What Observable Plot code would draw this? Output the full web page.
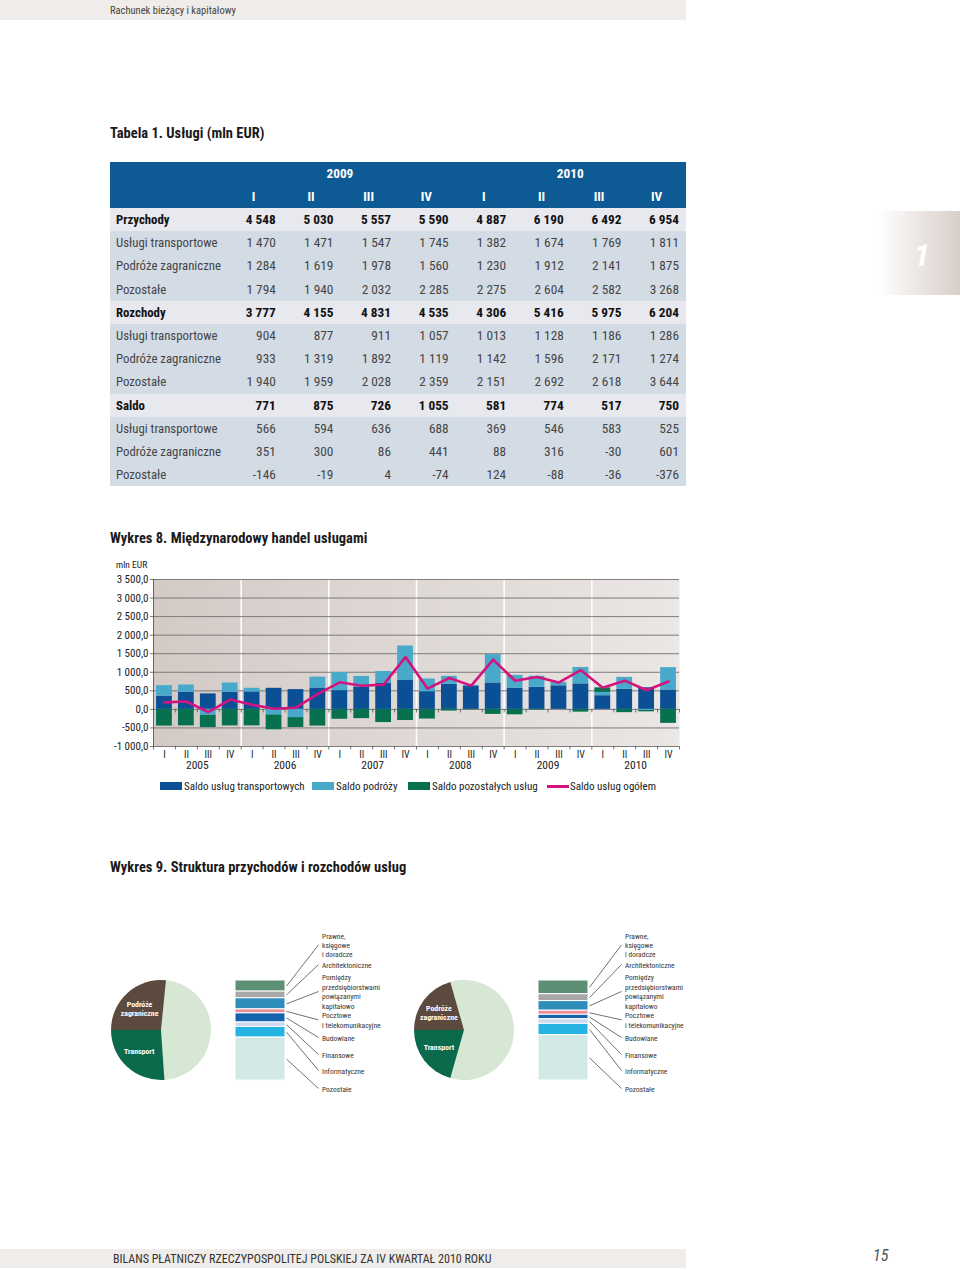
<!DOCTYPE html>
<html><head><meta charset="utf-8">
<script src="https://cdn.jsdelivr.net/npm/d3@7"></script>
<script src="https://cdn.jsdelivr.net/npm/@observablehq/plot@0.6"></script>
<style>
body{margin:0;width:960px;height:1270px;position:relative;background:#fff;overflow:hidden;
 font-family:"Liberation Sans Narrow","Roboto Condensed",Roboto,sans-serif;color:#222}
.abs{position:absolute}
.band{position:absolute;left:0;width:686px;background:#efecea}
.title{position:absolute;left:110px;font-size:14.5px;font-weight:bold;color:#1a1a1a}
table{border-collapse:collapse;table-layout:fixed;width:576px;font-size:13.3px}
td{height:23.2px;padding:0 7px 0 6px;box-sizing:border-box;white-space:nowrap}
td.lab{font-size:12.8px}
tr.head td{background:#0e5a94;color:#fff;font-weight:bold;text-align:center;height:23px}
tr.main td{background:#e8e8ef;font-weight:bold;color:#111}
tr.sub td{background:#d3dbe5;color:#454545}
td.num{text-align:right}
.leg{position:absolute;top:780px;font-size:11px;color:#222;line-height:13px}
.sw{position:absolute;top:782px;width:22px;height:8px}
</style></head><body>
<div class="band" style="top:0;height:20px"></div>
<div class="abs" style="left:110px;top:4px;font-size:10.5px;color:#444">Rachunek bieżący i kapitałowy</div>
<div class="abs" style="left:878px;top:211px;width:82px;height:84px;background:linear-gradient(to right,#ffffff,#d8cec9)"></div>
<div class="abs" style="left:914px;top:236px;font-size:32px;font-weight:bold;font-style:italic;color:#fff">1</div>
<div class="title" style="top:125px">Tabela 1. Usługi (mln EUR)</div>
<div id="tbl" class="abs" style="left:110px;top:162px"></div>
<div class="title" style="top:530px">Wykres 8. Międzynarodowy handel usługami</div>
<div id="chart8" class="abs" style="left:100px;top:555px"></div>
<div class="abs" style="left:116px;top:559px;font-size:9.5px;color:#222">mln EUR</div>
<div id="legend"></div>
<div class="title" style="top:859px">Wykres 9. Struktura przychodów i rozchodów usług</div>
<div id="pie1" class="abs" style="left:100px;top:925px"></div>
<div id="pie2" class="abs" style="left:403px;top:925px"></div>
<div class="band" style="top:1249px;height:19px"></div>
<div class="abs" style="left:113px;top:1252px;font-size:12px;color:#333">BILANS PŁATNICZY RZECZYPOSPOLITEJ POLSKIEJ ZA IV KWARTAŁ 2010 ROKU</div>
<div class="abs" style="left:873px;top:1246px;font-size:16px;font-style:italic;color:#555">15</div>
<script>
const FONT = '"Liberation Sans Narrow","Roboto Condensed",Roboto,sans-serif';
const pl = d3.formatLocale({decimal: ",", thousands: "\u00a0", grouping: [3], currency: ["", ""], minus: "-"});
const fmtInt = pl.format(",d");
const fmtAxis = pl.format(",.1f");

// ---------- Tabela 1 ----------
const tableYears = ["2009", "2010"];
const tableQuarters = ["I", "II", "III", "IV", "I", "II", "III", "IV"];
const rowLabels = ["Przychody", "Usługi transportowe", "Podróże zagraniczne", "Pozostałe",
  "Rozchody", "Usługi transportowe", "Podróże zagraniczne", "Pozostałe",
  "Saldo", "Usługi transportowe", "Podróże zagraniczne", "Pozostałe"];
const przychody      = [4548, 5030, 5557, 5590, 4887, 6190, 6492, 6954];
const przTransport   = [1470, 1471, 1547, 1745, 1382, 1674, 1769, 1811];
const przPodroze     = [1284, 1619, 1978, 1560, 1230, 1912, 2141, 1875];
const przPozostale   = [1794, 1940, 2032, 2285, 2275, 2604, 2582, 3268];
const rozchody       = [3777, 4155, 4831, 4535, 4306, 5416, 5975, 6204];
const rozTransport   = [904, 877, 911, 1057, 1013, 1128, 1186, 1286];
const rozPodroze     = [933, 1319, 1892, 1119, 1142, 1596, 2171, 1274];
const rozPozostale   = [1940, 1959, 2028, 2359, 2151, 2692, 2618, 3644];
const saldo          = [771, 875, 726, 1055, 581, 774, 517, 750];
const saldoTransport = [566, 594, 636, 688, 369, 546, 583, 525];
const saldoPodroze   = [351, 300, 86, 441, 88, 316, -30, 601];
const saldoPozostale = [-146, -19, 4, -74, 124, -88, -36, -376];
const tableRows = [przychody, przTransport, przPodroze, przPozostale, rozchody, rozTransport,
  rozPodroze, rozPozostale, saldo, saldoTransport, saldoPodroze, saldoPozostale];
const mainRows = new Set(["Przychody", "Rozchody", "Saldo"]);

{
  const t = d3.select("#tbl").append("table");
  const cg = t.append("colgroup");
  cg.append("col").style("width", "115.2px");
  tableQuarters.forEach(() => cg.append("col").style("width", "57.6px"));
  const h1 = t.append("tr").attr("class", "head");
  h1.append("td");
  tableYears.forEach(y => h1.append("td").attr("colspan", 4).text(y));
  const h2 = t.append("tr").attr("class", "head");
  h2.append("td");
  tableQuarters.forEach(q => h2.append("td").text(q));
  tableRows.forEach((vals, r) => {
    const tr = t.append("tr").attr("class", mainRows.has(rowLabels[r]) ? "main" : "sub");
    tr.append("td").attr("class", "lab").text(rowLabels[r]);
    vals.forEach(v => tr.append("td").attr("class", "num").text(fmtInt(v)));
  });
}

// ---------- Wykres 8 ----------
const chartYears = ["2005", "2006", "2007", "2008", "2009", "2010"];
const chartQuarters = ["I", "II", "III", "IV"];
const saldoUslugTransportowych = [355, 462, 417, 462, 470, 568, 533, 577, 506, 604, 710, 778,
  477, 676, 631, 712, 566, 594, 636, 688, 369, 546, 583, 525];
const saldoPodrozy = [285, 195, -160, 248, 98, -150, -222, 293, 489, 284, 311, 930,
  343, 216, 20, 765, 351, 300, 86, 441, 88, 316, -30, 601];
const saldoPozostalychUslug = [-450, -444, -330, -445, -444, -400, -266, -450, -266, -249, -355, -300,
  -260, -45, -10, -135, -146, -19, 4, -74, 124, -88, -36, -376];
const saldoUslugOgolem = [190, 213, -71, 265, 124, 18, 45, 420, 729, 639, 666, 1410,
  560, 847, 640, 1342, 771, 875, 726, 1055, 581, 774, 517, 750];
const seriesNames = ["Saldo usług transportowych", "Saldo podróży", "Saldo pozostałych usług"];
const lineName = "Saldo usług ogółem";
const seriesColors = ["#0b4f95", "#49a9cb", "#07704f"];
const lineColor = "#d4147e";

const periods = chartYears.flatMap(y => chartQuarters.map(q => ({year: y, q})));
const barRows = [];
[saldoUslugTransportowych, saldoPodrozy, saldoPozostalychUslug].forEach((arr, s) =>
  arr.forEach((v, i) => barRows.push({i, series: seriesNames[s], value: v})));
const lineRows = saldoUslugOgolem.map((v, i) => ({i, value: v}));
const boundaries = d3.range(periods.length + 1);
const yearStarts = boundaries.filter(b => b > 0 && b < periods.length && b % chartQuarters.length === 0);
const yTicks = d3.range(-1000, 3501, 500);
const yMin = d3.min(yTicks), yMax = d3.max(yTicks);
const tickLen = (yMax - yMin) / 166 * 3.5; // ~3.5 px expressed in value units

const chart = Plot.plot({
  width: 590, height: 222, marginLeft: 53, marginRight: 11, marginTop: 24, marginBottom: 31,
  x: {domain: [0, periods.length], axis: null},
  y: {domain: [yMin, yMax], axis: null},
  color: {domain: seriesNames, range: seriesColors},
  style: {fontFamily: FONT, fontSize: "11px", color: "#222", background: "transparent"},
  marks: [
    Plot.frame({fill: "url(#bg8)", stroke: "none"}),
    Plot.ruleX(yearStarts, {stroke: "#ffffff", strokeWidth: 1.6}),
    Plot.ruleY(yTicks, {stroke: "#717171", strokeWidth: 0.9}),
    Plot.rectY(barRows, {x1: d => d.i + 0.14, x2: d => d.i + 0.86, y: "value", fill: "series"}),
    Plot.ruleX(boundaries, {x: d => d, y1: 0, y2: -tickLen, stroke: "#555", strokeWidth: 0.8}),
    Plot.ruleX(boundaries, {x: d => d, y1: yMin, y2: yMin - tickLen, stroke: "#555", strokeWidth: 0.8}),
    Plot.line(lineRows, {x: d => d.i + 0.5, y: "value", stroke: lineColor, strokeWidth: 2.6}),
    Plot.ruleX([0], {stroke: "#555", strokeWidth: 0.9}),
    Plot.ruleY(yTicks, {x1: 0, x2: -0.14, stroke: "#555", strokeWidth: 0.8}),
    Plot.text(yTicks, {x: 0, y: d => d, text: d => fmtAxis(d), textAnchor: "end", dx: -5, fontSize: 11}),
    Plot.text(periods, {x: (d, i) => i + 0.5, y: yMin, text: "q", lineAnchor: "top", dy: 4, fontSize: 10}),
    Plot.text(chartYears, {x: (d, i) => i * chartQuarters.length + chartQuarters.length / 2, y: yMin,
      text: d => d, lineAnchor: "top", dy: 14, fontSize: 11.5})
  ]
});
d3.select(chart).insert("defs", ":first-child").html(
  '<linearGradient id="bg8" x1="0" x2="1" y1="0" y2="0"><stop offset="0" stop-color="#d3cac6"/><stop offset="1" stop-color="#ebe7e4"/></linearGradient>');
document.getElementById("chart8").append(chart);

// legend
{
  const leg = d3.select("#legend");
  const swX = [160, 312, 408];
  seriesNames.forEach((n, i) => {
    leg.append("div").attr("class", "sw").style("left", swX[i] + "px").style("background", seriesColors[i]);
    leg.append("div").attr("class", "leg").style("left", (swX[i] + 24) + "px").text(n);
  });
  leg.append("div").attr("class", "abs").style("left", "547px").style("top", "785px")
    .style("width", "22px").style("height", "3px").style("background", lineColor);
  leg.append("div").attr("class", "leg").style("left", "570px").text(lineName);
}

// ---------- Wykres 9 ----------
const pieNames = ["Pozostałe", "Transport", "Podróże zagraniczne"];
const pieLabels = ["", "Transport", "Podróże\nzagraniczne"];
const pieColors = ["#d6e8d3", "#0a6a4b", "#5d4a3f"];
const przychodySharesPie = [47.3, 26.1, 26.6];
const rozchodySharesPie = [58.8, 20.6, 20.6];

const segNames = ["Prawne, księgowe i doradcze", "Architektoniczne",
  "Pomiędzy przedsiębiorstwami powiązanymi kapitałowo", "Pocztowe i telekomunikacyjne",
  "Budowlane", "Finansowe", "Informatyczne", "Pozostałe"];
const segLabels = ["Prawne,\nksięgowe\ni doradcze", "Architektoniczne",
  "Pomiędzy\nprzedsiębiorstwami\npowiązanymi\nkapitałowo", "Pocztowe\ni telekomunikacyjne",
  "Budowlane", "Finansowe", "Informatyczne", "Pozostałe"];
const segColors = ["#5d8f75", "#a8a8a8", "#2e8db9", "#e98d97", "#1562ad", "#cad9f1", "#25b3e2", "#d3e9e6"];
const przychodySegments = [11.1, 6.7, 11.1, 4.0, 9.1, 4.4, 10.7, 43.0];
const rozchodySegments = [13.7, 6.9, 9.6, 4.1, 4.5, 4.5, 11.3, 45.4];

// layout (column-width units / px from column top)
const pieCenterX = -1.48, labelX = 1.73, leaderX = 1.66;
const labelY = [-35.6, -16, 11, 39.4, 57, 74, 90, 108];

function pieRender(shares) {
  return (index, scales) => {
    const cx = scales.x(pieCenterX), cy = scales.y(50), r = scales.x(1) - scales.x(0);
    const total = d3.sum(shares);
    const start = 1.5 * Math.PI + shares[2] / total * 2 * Math.PI;
    const arcs = d3.pie().sort(null).value(d => d).startAngle(start).endAngle(start + 2 * Math.PI)(shares);
    const arc = d3.arc().innerRadius(0).outerRadius(r);
    const lab = d3.arc().innerRadius(r * 0.58).outerRadius(r * 0.58);
    const g = d3.create("svg:g").attr("transform", `translate(${cx},${cy})`);
    g.selectAll("path").data(arcs).join("path").attr("d", arc).attr("fill", (d, i) => pieColors[i]);
    arcs.forEach((a, i) => {
      if (!pieLabels[i]) return;
      const [x, y] = lab.centroid(a);
      const lines = pieLabels[i].split("\n");
      const t = g.append("text").attr("fill", "#fff").attr("font-weight", "bold").attr("font-size", 7.8)
        .attr("text-anchor", "middle").attr("font-family", FONT);
      lines.forEach((l, k) => t.append("tspan").attr("x", x - 2)
        .attr("y", y + (k - (lines.length - 1) / 2) * 9 + 3).text(l));
    });
    return g.node();
  };
}

function panel(shares, segs) {
  const cum = d3.cumsum(segs);
  const rows = segs.map((v, i) => ({name: segNames[i], label: segLabels[i], value: v, mid: cum[i] - v / 2, ly: labelY[i]}));
  return Plot.plot({
    width: 300, height: 175, marginTop: 55, marginBottom: 20, marginLeft: 135, marginRight: 115,
    x: {domain: [0, 1], axis: null},
    y: {domain: [0, 100], reverse: true, axis: null},
    color: {domain: segNames, range: segColors},
    style: {fontFamily: FONT, background: "transparent", overflow: "visible"},
    marks: [
      pieRender(shares),
      Plot.rectY(rows, {x1: 0, x2: 1, y: "value", fill: "name", stroke: "#fff", strokeWidth: 1}),
      Plot.link(rows, {x1: leaderX, y1: "ly", x2: 1.02, y2: "mid", stroke: "#333", strokeWidth: 0.7}),
      Plot.text(rows, {x: labelX, y: "ly", text: "label", textAnchor: "start", lineAnchor: "middle",
        fontSize: 7.5, lineHeight: 1.25, fill: "#333"})
    ]
  });
}
document.getElementById("pie1").append(panel(przychodySharesPie, przychodySegments));
document.getElementById("pie2").append(panel(rozchodySharesPie, rozchodySegments));
</script>
</body></html>
